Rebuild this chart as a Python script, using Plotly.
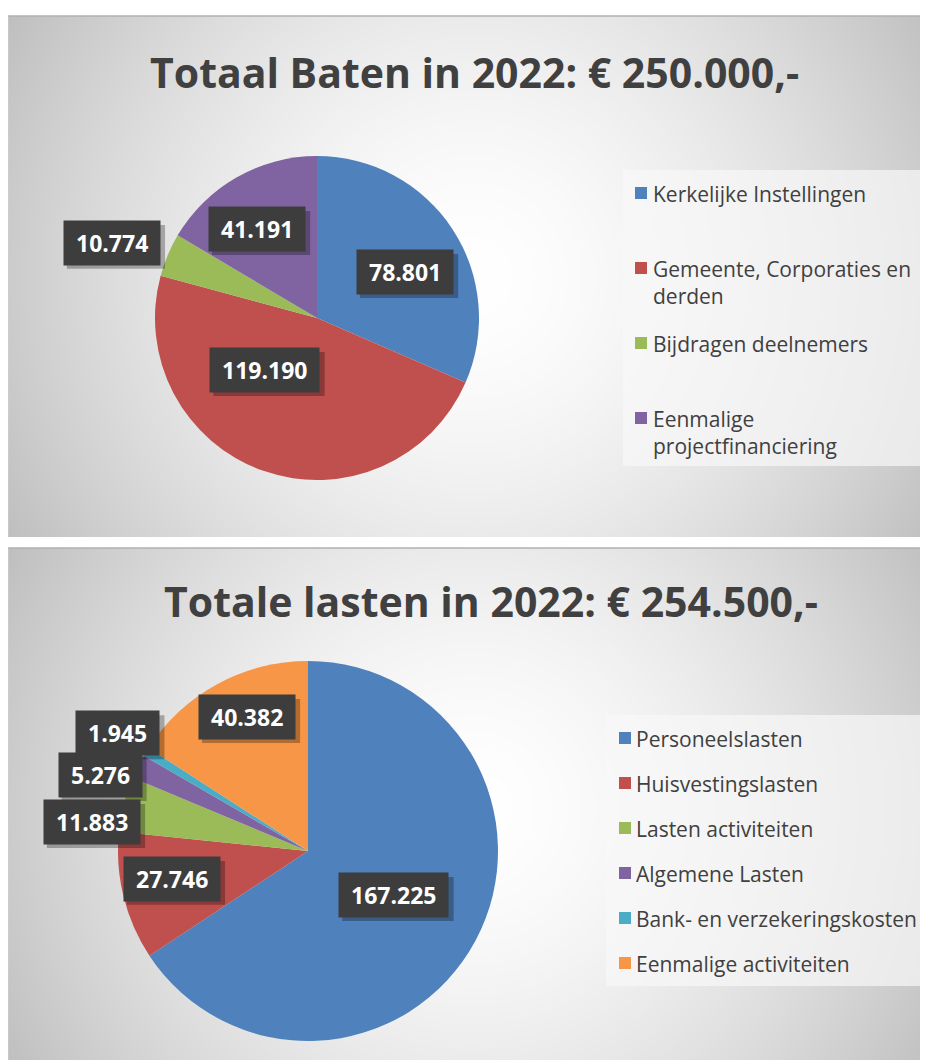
import base64
import math
import struct
import textwrap
import zlib

import numpy as np
import plotly.graph_objects as go

# ---- data ----
baten_title = "Totaal Baten in 2022: € 250.000,-"
baten_labels = [
    "Kerkelijke Instellingen",
    "Gemeente, Corporaties en derden",
    "Bijdragen deelnemers",
    "Eenmalige projectfinanciering",
]
baten_values = [78801, 119190, 10774, 41191]

lasten_title = "Totale lasten in 2022: € 254.500,-"
lasten_labels = [
    "Personeelslasten",
    "Huisvestingslasten",
    "Lasten activiteiten",
    "Algemene Lasten",
    "Bank- en verzekeringskosten",
    "Eenmalige activiteiten",
]
lasten_values = [167225, 27746, 11883, 5276, 1945, 40382]

# ---- style ----
W, H = 928, 1060
OFF = 8  # page body margin: screen px -> figure px
office = ["#4F81BD", "#C0504D", "#9BBB59", "#8064A2", "#4BACC6", "#F79646"]
dark = "#404040"
title_font = "Open Sans, sans-serif"
text_font = "Open Sans, sans-serif"
LBL_SIZE = 23
LBL_PAD = 6


def fmt(v):
    return f"{v:,}".replace(",", ".")


def png_gray(arr):
    h, w = arr.shape
    raw = b"".join(b"\x00" + arr[i].tobytes() for i in range(h))

    def chunk(tag, data):
        return (struct.pack(">I", len(data)) + tag + data
                + struct.pack(">I", zlib.crc32(tag + data) & 0xFFFFFFFF))

    return (b"\x89PNG\r\n\x1a\n"
            + chunk(b"IHDR", struct.pack(">IIBBBBB", w, h, 8, 0, 0, 0, 0))
            + chunk(b"IDAT", zlib.compress(raw, 9))
            + chunk(b"IEND", b""))


def panel_bg(w, h):
    # radial grey gradient, white in the middle
    ys, xs = np.mgrid[0:h, 0:w]
    d = np.hypot(xs - w / 2, ys - h / 2) / math.hypot(w / 2, h / 2)
    v = 255 - 64 * np.clip(d, 0, 1) ** 1.6
    src = base64.b64encode(png_gray(v.astype(np.uint8))).decode()
    return "data:image/png;base64," + src


def px(x, y):
    # screen pixel position -> paper coords
    return (x - OFF) / W, 1 - (y - OFF) / H


def dom(x0, x1, y0, y1):
    a, b = px(x0, y1)
    c, d = px(x1, y0)
    return dict(x=[a, c], y=[b, d])


def label_width(txt):
    # rough Open Sans Bold advance widths
    em = sum(0.28 if ch == "." else 0.26 if ch == "\u00a0" else 0.572 for ch in txt)
    return em * LBL_SIZE + 2 * LBL_PAD + 2


fig = go.Figure()

panels = [
    # left, top, width, height (screen px)
    (8, 16, 930, 521),
    (8, 548, 930, 521),
]
bg = panel_bg(930, 521)
for (l, t, w, h) in panels:
    x0, y0 = px(l, t)
    fig.add_layout_image(
        source=bg, xref="paper", yref="paper", x=x0, y=y0,
        sizex=w / W, sizey=h / H, xanchor="left", yanchor="top",
        sizing="stretch", layer="below",
    )
    fig.add_shape(type="line", xref="paper", yref="paper",
                  x0=x0, x1=1, y0=y0, y1=y0,
                  line=dict(color="#b0b0b0", width=1.5))
    fig.add_shape(type="line", xref="paper", yref="paper",
                  x0=x0, x1=x0, y0=y0, y1=y0 - h / H,
                  line=dict(color="#d0d0d0", width=1))

charts = [
    dict(labels=baten_labels, values=baten_values, colors=office[:4],
         title=baten_title, title_xy=(475, 72),
         domain=dom(155, 479, 156, 480),
         lab_r=[0.613, 0.454, 1.348, 0.662],
         lab_da=[5.7, 25.7, -2.8, -4.3],
         legend_box=(623, 170, 928, 466), legend_first=193, legend_step=75,
         legend_marker_x=635, legend_text_x=651, wrap=24),
    dict(labels=lasten_labels, values=lasten_values, colors=office,
         title=lasten_title, title_xy=(491, 601),
         domain=dom(118, 498, 661, 1041),
         lab_r=[0.508, 0.731, 1.147, 1.165, 1.177, 0.775],
         lab_da=[-1.2, 2.2, -6.6, -6.3, 0.3, 4.1],
         legend_box=(606, 715, 925, 986), legend_first=738, legend_step=45,
         legend_marker_x=619, legend_text_x=634, wrap=40),
]

for c in charts:
    fig.add_trace(go.Pie(
        labels=c["labels"], values=c["values"], sort=False,
        direction="clockwise", rotation=0, domain=c["domain"],
        marker=dict(colors=c["colors"], line=dict(width=0)),
        textinfo="none", showlegend=False,
        hovertemplate="%{label}: %{value}<extra></extra>",
    ))

    tx, ty = px(*c["title_xy"])
    fig.add_annotation(text="<b>" + c["title"] + "</b>", x=tx, y=ty,
                       xref="paper", yref="paper", showarrow=False,
                       xanchor="center", yanchor="middle",
                       font=dict(family=title_font, size=41, color=dark))

    # data labels, placed around the middle angle of each slice
    cx = (c["domain"]["x"][0] + c["domain"]["x"][1]) / 2 * W + OFF
    cy = (1 - (c["domain"]["y"][0] + c["domain"]["y"][1]) / 2) * H + OFF
    r = (c["domain"]["x"][1] - c["domain"]["x"][0]) / 2 * W
    total = sum(c["values"])
    cum = 0
    for v, rf, da in zip(c["values"], c["lab_r"], c["lab_da"]):
        ang = math.radians((cum + v / 2) / total * 360 + da)
        cum += v
        lx, ly = px(cx + rf * r * math.sin(ang), cy - rf * r * math.cos(ang))
        txt = "\u00a0" + fmt(v) + "\u00a0"
        # drop shadow behind the label box
        bw = label_width(txt)
        bh = LBL_SIZE * 1.3 + 2 * LBL_PAD + 2
        fig.add_shape(type="rect", xref="paper", yref="paper",
                      xsizemode="pixel", ysizemode="pixel",
                      xanchor=lx, yanchor=ly,
                      x0=-bw / 2 + 4, x1=bw / 2 + 4,
                      y0=-bh / 2 - 4, y1=bh / 2 - 4,
                      fillcolor="rgba(0,0,0,0.28)", line=dict(width=0))
        fig.add_annotation(text="<b>" + txt + "</b>", x=lx, y=ly,
                           xref="paper", yref="paper", showarrow=False,
                           xanchor="center", yanchor="middle",
                           bgcolor="#3d3d3d", borderpad=LBL_PAD,
                           font=dict(family=text_font, size=LBL_SIZE,
                                     color="white"))

    # legend
    bx0, by0, bx1, by1 = c["legend_box"]
    lx0, ly0 = px(bx0, by0)
    lx1, ly1 = px(bx1, by1)
    fig.add_shape(type="rect", xref="paper", yref="paper",
                  x0=lx0, x1=lx1, y0=ly0, y1=ly1,
                  fillcolor="rgba(248,248,248,0.7)", line=dict(width=0))
    fs = 21
    for i, (lab, col) in enumerate(zip(c["labels"], c["colors"])):
        yc = c["legend_first"] + i * c["legend_step"]
        mx = c["legend_marker_x"]
        mx0, my0 = px(mx, yc - 6)
        mx1, my1 = px(mx + 12, yc + 6)
        fig.add_shape(type="rect", xref="paper", yref="paper",
                      x0=mx0, x1=mx1, y0=my0, y1=my1,
                      fillcolor=col, line=dict(width=0))
        lines = textwrap.wrap(lab, c["wrap"])
        ax, ay = px(c["legend_text_x"], yc - 0.65 * fs - 1)
        fig.add_annotation(text="<br>".join(lines), x=ax, y=ay,
                           xref="paper", yref="paper", showarrow=False,
                           xanchor="left", yanchor="top", align="left",
                           font=dict(family=text_font, size=fs, color=dark))

fig.update_layout(
    width=W, height=H, margin=dict(l=0, r=0, t=0, b=0),
    paper_bgcolor="white", plot_bgcolor="white", showlegend=False,
)

fig.write_html("out.html")
